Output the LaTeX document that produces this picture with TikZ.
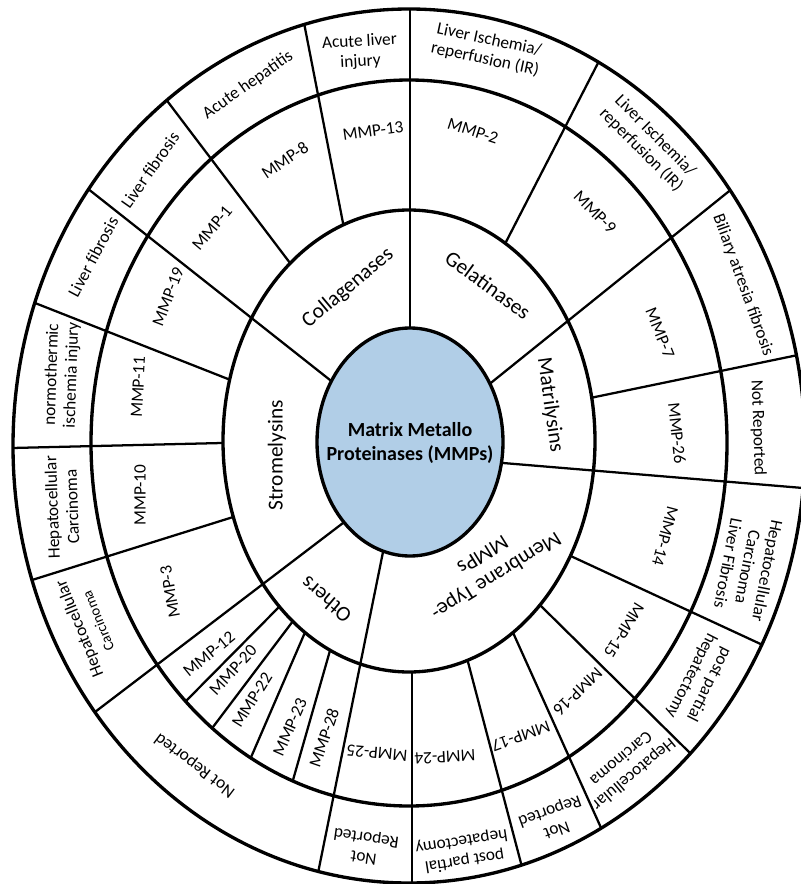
\documentclass[tikz,border=0pt]{standalone}
\usepackage{fontspec}
\setmainfont{Carlito}
\definecolor{mmpblue}{RGB}{177,206,231}
\tikzset{
  ring/.style={line width=2.5pt},
  spoke/.style={line width=1.7pt, shorten <=-12pt, shorten >=-12pt},
  lbl/.style={font=\fontsize{13}{15}\selectfont, align=center, inner sep=0pt},
  cat/.style={font=\fontsize{16}{19}\selectfont, align=center, inner sep=0pt},
}
\begin{document}
\begin{tikzpicture}[x=0.75pt,y=0.75pt,yscale=-1,xscale=1]
\useasboundingbox (0,0) rectangle (800,884);

%Spokes: MMP ring and disease ring
\begin{scope}
\clip (409,446) ellipse (396 and 437);
\draw[spoke] (290,263) -- (168,102);
\draw[spoke] (343,223) -- (305,28);
\draw[spoke] (507,240) -- (597,65);
\draw[spoke] (595,397) -- (798,355);
\draw[spoke] (575,558) -- (767,647);
\draw[spoke] (543,608) -- (692,755);
\draw[spoke] (515,637) -- (602,830);
\draw[spoke] (468,662) -- (522,867);
\draw[spoke] (412,672) -- (412,884);
\draw[spoke] (228,379) -- (35,303);
\draw[spoke] (222,443) -- (12,448);
\draw[spoke] (230,518) -- (32,580);
\end{scope}
%Spokes: Others, MMP ring only
\begin{scope}
\clip (409,443) ellipse (318 and 363);
\draw[spoke] (278,608) -- (187,700);
\draw[spoke] (290,625) -- (213,727);
\draw[spoke] (303,637) -- (252,755);
\draw[spoke] (329,654) -- (293,780);
\end{scope}
\fill[white] (409,441) ellipse (186 and 231);
%Spokes: family borders, centre to rim
\begin{scope}
\clip (409,446) ellipse (396 and 437);
\draw[spoke] (410,328) -- (410,9);
\draw[spoke] (492,382) -- (728,192);
\draw[spoke] (503,463) -- (803,488);
\draw[spoke] (383,552) -- (318,873);
\draw[spoke] (343,523) -- (95,712);
\draw[spoke] (330,380) -- (92,192);
\end{scope}

%Rings
\draw[ring] (409,446) ellipse (396 and 437);
\draw[ring] (409,443) ellipse (318 and 363);
\draw[ring] (409,441) ellipse (186 and 231);
\draw[ring, fill=mmpblue] (410,442) ellipse (93 and 114);

% Centre
\node[font=\fontsize{15}{17.5}\selectfont\bfseries, align=center] (mmps) at (410,443) {Matrix Metallo\\Proteinases (MMPs)};

% Families
\node[cat, rotate=40] (coll) at (348,288) {Collagenases};
\node[cat, rotate=-36] (gel) at (488,285) {Gelatinases};
\node[cat, rotate=-82] (matri) at (550,405) {Matrilysins};
\node[cat, rotate=-148] (mtype) at (490,566) {Membrane Type-\\MMPs};
\node[cat, rotate=140] (others) at (326,600) {Others};
\node[cat, rotate=90] (strom) at (277,455) {Stromelysins};

% MMPs
\node[lbl, rotate=50] (mmp1) at (212,228) {MMP-1};
\node[lbl, rotate=34] (mmp8) at (285,160) {MMP-8};
\node[lbl, rotate=8] (mmp13) at (373,131) {MMP-13};
\node[lbl, rotate=-18] (mmp2) at (473,131) {MMP-2};
\node[lbl, rotate=-45] (mmp9) at (595,212) {MMP-9};
\node[lbl, rotate=-68] (mmp7) at (660,333) {MMP-7};
\node[lbl, rotate=-84] (mmp26) at (677,433) {MMP-26};
\node[lbl, rotate=-105] (mmp14) at (665,536) {MMP-14};
\node[lbl, rotate=-122] (mmp15) at (624,630) {MMP-15};
\node[lbl, rotate=-136] (mmp16) at (578,692) {MMP-16};
\node[lbl, rotate=-160] (mmp17) at (521,736) {MMP-17};
\node[lbl, rotate=183] (mmp24) at (445,757) {MMP-24};
\node[lbl, rotate=175] (mmp25) at (377,753) {MMP-25};
\node[lbl, rotate=71] (mmp28) at (324,738) {MMP-28};
\node[lbl, rotate=66] (mmp23) at (290,727) {MMP-23};
\node[lbl, rotate=58] (mmp22) at (252,700) {MMP-22};
\node[lbl, rotate=47] (mmp20) at (233,670) {MMP-20};
\node[lbl, rotate=39] (mmp12) at (209,654) {MMP-12};
\node[lbl, rotate=100] (mmp3) at (170,592) {MMP-3};
\node[lbl, rotate=90] (mmp10) at (140,495) {MMP-10};
\node[lbl, rotate=87] (mmp11) at (138,387) {MMP-11};
\node[lbl, rotate=69] (mmp19) at (168,297) {MMP-19};

% Diseases
\node[lbl, rotate=62] (dis19) at (93,257) {Liver fibrosis};
\node[lbl, rotate=55] (dis1) at (150,170) {Liver fibrosis};
\node[lbl, rotate=35] (dis8) at (248,85) {Acute hepatitis};
\node[lbl, rotate=3] (dis13) at (360,52) {Acute liver\\injury};
\node[lbl, rotate=-12] (dis2) at (487,50) {Liver Ischemia/\\reperfusion (IR)};
\node[lbl, rotate=-45] (dis9) at (648,143) {Liver Ischemia/\\reperfusion (IR)};
\node[lbl, rotate=-70] (dis7) at (743,285) {Biliary atresia fibrosis};
\node[lbl, rotate=-88] (dis26) at (758,428) {Not Reported};
\node[lbl, rotate=-101] (dis14) at (748,567) {Hepatocellular\\Carcinoma\\Liver Fibrosis};
\node[lbl, rotate=-117] (dis15) at (700,680) {post partial\\hepatectomy};
\node[lbl, rotate=-140] (dis16) at (628,767) {Hepatocellular\\Carcinoma};
\node[lbl, rotate=-160] (dis17) at (553,820) {Not\\Reported};
\node[lbl, rotate=189] (dis24) at (463,851) {post partial\\hepatectomy};
\node[lbl, rotate=172] (dis25) at (365,847) {Not\\Reported};
\node[lbl, rotate=143] (disoth) at (195,765) {Not Reported};
\node[lbl, rotate=112] (dis3) at (88,625) {Hepatocellular\\{\fontsize{11}{13}\selectfont Carcinoma}};
\node[lbl, rotate=92] (dis10) at (62,507) {Hepatocellular\\Carcinoma};
\node[lbl, rotate=88] (dis11) at (62,375) {normothermic\\ischemia injury};
\end{tikzpicture}
\end{document}
